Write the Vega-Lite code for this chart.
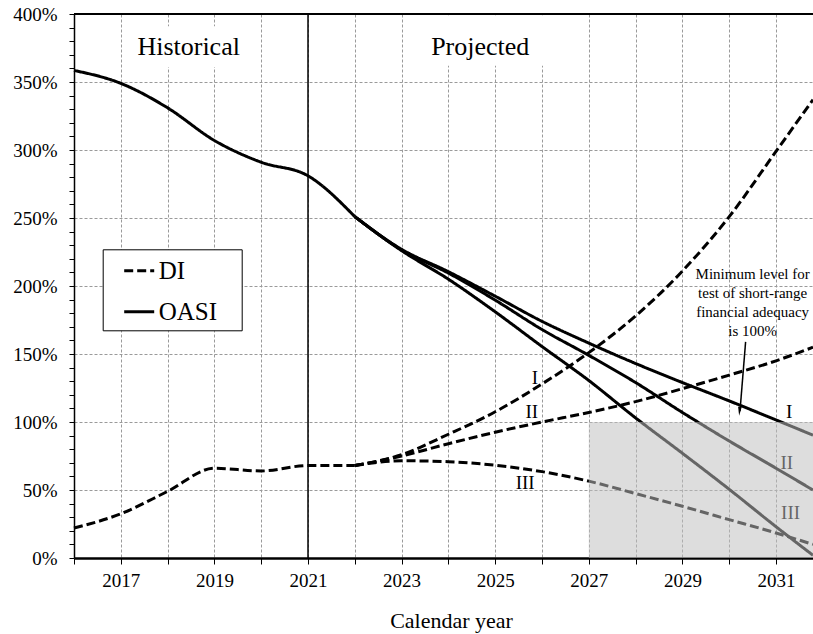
{
  "$schema": "https://vega.github.io/schema/vega-lite/v6.json",
  "width": 739,
  "height": 544,
  "autosize": {"type": "none"},
  "padding": {"left": 74, "top": 14, "right": 0, "bottom": 76},
  "background": "white",
  "config": {
    "font": "Liberation Serif, Times New Roman, serif",
    "view": {"stroke": null},
    "text": {"font": "Liberation Serif, Times New Roman, serif"},
    "axis": {"labelColor": "black", "titleColor": "black", "labelFont": "Liberation Serif, Times New Roman, serif", "titleFont": "Liberation Serif, Times New Roman, serif", "labelFontWeight": "normal"},
    "legend": {"labelFont": "Liberation Serif, Times New Roman, serif"}
  },
  "datasets": {
    "series": [
      {"year": 2016, "value": 22, "fund": "DI", "series": "DI-hist"},
      {"year": 2017, "value": 32.5, "fund": "DI", "series": "DI-hist"},
      {"year": 2018, "value": 49, "fund": "DI", "series": "DI-hist"},
      {"year": 2019, "value": 66, "fund": "DI", "series": "DI-hist"},
      {"year": 2020, "value": 64, "fund": "DI", "series": "DI-hist"},
      {"year": 2021, "value": 68, "fund": "DI", "series": "DI-hist"},
      {"year": 2022, "value": 68, "fund": "DI", "series": "DI-hist"},
      {"year": 2022, "value": 68, "fund": "DI", "series": "DI-I"},
      {"year": 2023, "value": 76, "fund": "DI", "series": "DI-I"},
      {"year": 2024, "value": 91, "fund": "DI", "series": "DI-I"},
      {"year": 2025, "value": 107.5, "fund": "DI", "series": "DI-I"},
      {"year": 2026, "value": 128, "fund": "DI", "series": "DI-I"},
      {"year": 2027, "value": 151, "fund": "DI", "series": "DI-I"},
      {"year": 2028, "value": 178, "fund": "DI", "series": "DI-I"},
      {"year": 2029, "value": 211, "fund": "DI", "series": "DI-I"},
      {"year": 2030, "value": 251, "fund": "DI", "series": "DI-I"},
      {"year": 2031, "value": 299, "fund": "DI", "series": "DI-I"},
      {"year": 2031.79, "value": 337, "fund": "DI", "series": "DI-I"},
      {"year": 2022, "value": 68, "fund": "DI", "series": "DI-II"},
      {"year": 2023, "value": 75, "fund": "DI", "series": "DI-II"},
      {"year": 2024, "value": 84, "fund": "DI", "series": "DI-II"},
      {"year": 2025, "value": 92.5, "fund": "DI", "series": "DI-II"},
      {"year": 2026, "value": 100, "fund": "DI", "series": "DI-II"},
      {"year": 2027, "value": 107, "fund": "DI", "series": "DI-II"},
      {"year": 2028, "value": 115, "fund": "DI", "series": "DI-II"},
      {"year": 2029, "value": 124.5, "fund": "DI", "series": "DI-II"},
      {"year": 2030, "value": 134.5, "fund": "DI", "series": "DI-II"},
      {"year": 2031, "value": 145, "fund": "DI", "series": "DI-II"},
      {"year": 2031.79, "value": 155, "fund": "DI", "series": "DI-II"},
      {"year": 2022, "value": 68, "fund": "DI", "series": "DI-III"},
      {"year": 2023, "value": 71.5, "fund": "DI", "series": "DI-III"},
      {"year": 2024, "value": 70.8, "fund": "DI", "series": "DI-III"},
      {"year": 2025, "value": 68.2, "fund": "DI", "series": "DI-III"},
      {"year": 2026, "value": 63.5, "fund": "DI", "series": "DI-III"},
      {"year": 2027, "value": 56.5, "fund": "DI", "series": "DI-III"},
      {"year": 2028, "value": 47.4, "fund": "DI", "series": "DI-III"},
      {"year": 2029, "value": 38, "fund": "DI", "series": "DI-III"},
      {"year": 2030, "value": 28.2, "fund": "DI", "series": "DI-III"},
      {"year": 2031, "value": 18.4, "fund": "DI", "series": "DI-III"},
      {"year": 2031.79, "value": 10, "fund": "DI", "series": "DI-III"},
      {"year": 2016, "value": 358.5, "fund": "OASI", "series": "OASI-hist"},
      {"year": 2017, "value": 349, "fund": "OASI", "series": "OASI-hist"},
      {"year": 2018, "value": 331, "fund": "OASI", "series": "OASI-hist"},
      {"year": 2019, "value": 307, "fund": "OASI", "series": "OASI-hist"},
      {"year": 2020, "value": 291, "fund": "OASI", "series": "OASI-hist"},
      {"year": 2021, "value": 281, "fund": "OASI", "series": "OASI-hist"},
      {"year": 2022, "value": 251, "fund": "OASI", "series": "OASI-hist"},
      {"year": 2022, "value": 251, "fund": "OASI", "series": "OASI-I"},
      {"year": 2023, "value": 227, "fund": "OASI", "series": "OASI-I"},
      {"year": 2024, "value": 210.5, "fund": "OASI", "series": "OASI-I"},
      {"year": 2025, "value": 192.5, "fund": "OASI", "series": "OASI-I"},
      {"year": 2026, "value": 174, "fund": "OASI", "series": "OASI-I"},
      {"year": 2027, "value": 158, "fund": "OASI", "series": "OASI-I"},
      {"year": 2028, "value": 143, "fund": "OASI", "series": "OASI-I"},
      {"year": 2029, "value": 129, "fund": "OASI", "series": "OASI-I"},
      {"year": 2030, "value": 115.5, "fund": "OASI", "series": "OASI-I"},
      {"year": 2031, "value": 101.5, "fund": "OASI", "series": "OASI-I"},
      {"year": 2031.79, "value": 90.3, "fund": "OASI", "series": "OASI-I"},
      {"year": 2022, "value": 251, "fund": "OASI", "series": "OASI-II"},
      {"year": 2023, "value": 226.5, "fund": "OASI", "series": "OASI-II"},
      {"year": 2024, "value": 209.5, "fund": "OASI", "series": "OASI-II"},
      {"year": 2025, "value": 189.6, "fund": "OASI", "series": "OASI-II"},
      {"year": 2026, "value": 168, "fund": "OASI", "series": "OASI-II"},
      {"year": 2027, "value": 149, "fund": "OASI", "series": "OASI-II"},
      {"year": 2028, "value": 129, "fund": "OASI", "series": "OASI-II"},
      {"year": 2029, "value": 107, "fund": "OASI", "series": "OASI-II"},
      {"year": 2030, "value": 86, "fund": "OASI", "series": "OASI-II"},
      {"year": 2031, "value": 66, "fund": "OASI", "series": "OASI-II"},
      {"year": 2031.79, "value": 50, "fund": "OASI", "series": "OASI-II"},
      {"year": 2022, "value": 251, "fund": "OASI", "series": "OASI-III"},
      {"year": 2023, "value": 226, "fund": "OASI", "series": "OASI-III"},
      {"year": 2024, "value": 205, "fund": "OASI", "series": "OASI-III"},
      {"year": 2025, "value": 181, "fund": "OASI", "series": "OASI-III"},
      {"year": 2026, "value": 155.5, "fund": "OASI", "series": "OASI-III"},
      {"year": 2027, "value": 130.5, "fund": "OASI", "series": "OASI-III"},
      {"year": 2028, "value": 103, "fund": "OASI", "series": "OASI-III"},
      {"year": 2029, "value": 77, "fund": "OASI", "series": "OASI-III"},
      {"year": 2030, "value": 50.5, "fund": "OASI", "series": "OASI-III"},
      {"year": 2031, "value": 23, "fund": "OASI", "series": "OASI-III"},
      {"year": 2031.79, "value": 2, "fund": "OASI", "series": "OASI-III"}
    ],
    "labels": [
      {"year": 2025.85, "value": 128.3, "label": "I"},
      {"year": 2025.78, "value": 102.6, "label": "II"},
      {"year": 2025.64, "value": 51.1, "label": "III"},
      {"year": 2031.28, "value": 102.6, "label": "I"},
      {"year": 2031.23, "value": 65.8, "label": "II"},
      {"year": 2031.31, "value": 29, "label": "III"}
    ]
  },
  "layer": [
    {
      "data": {"name": "series"},
      "mark": {"type": "line", "interpolate": "monotone", "strokeWidth": 3, "color": "black"},
      "encoding": {
        "x": {
          "field": "year", "type": "quantitative",
          "scale": {"domain": [2016, 2031.79], "nice": false, "zero": false},
          "axis": {
            "values": [2016, 2017, 2018, 2019, 2020, 2021, 2022, 2023, 2024, 2025, 2026, 2027, 2028, 2029, 2030, 2031],
            "tickCount": 100,
            "format": "d",
            "labelExpr": "datum.value % 2 === 1 ? datum.label : ''",
            "labelOverlap": false,
            "labelFontSize": 19,
            "labelFontWeight": "normal",
            "labelPadding": 7,
            "tickSize": 6,
            "tickColor": "black",
            "tickWidth": 1,
            "domainColor": "black",
            "domainWidth": 2.5,
            "grid": true,
            "gridColor": "#9a9a9a",
            "gridDash": [3, 2],
            "gridWidth": 1,
            "title": "Calendar year",
            "titleFontSize": 22,
            "titleFontWeight": "normal",
            "titlePadding": 20,
            "titleX": 377
          }
        },
        "y": {
          "field": "value", "type": "quantitative",
          "scale": {"domain": [0, 400], "nice": false},
          "axis": {
            "values": [0, 10, 20, 30, 40, 50, 60, 70, 80, 90, 100, 110, 120, 130, 140, 150, 160, 170, 180, 190, 200, 210, 220, 230, 240, 250, 260, 270, 280, 290, 300, 310, 320, 330, 340, 350, 360, 370, 380, 390, 400],
            "tickCount": 100,
            "labelExpr": "datum.value % 50 === 0 ? datum.value + '%' : ''",
            "labelOverlap": false,
            "labelFontSize": 19,
            "labelFontWeight": "normal",
            "labelPadding": 12,
            "tickSize": 5,
            "tickColor": "black",
            "tickWidth": 1,
            "domainColor": "black",
            "domainWidth": 1.5,
            "grid": true,
            "gridColor": "#9a9a9a",
            "gridDash": [3, 2],
            "gridWidth": 1,
            "gridOpacity": {"condition": {"test": "datum.value % 50 === 0 && datum.value > 0 && datum.value < 400", "value": 1}, "value": 0},
            "title": null
          }
        },
        "detail": {"field": "series"},
        "order": {"field": "year", "type": "quantitative"},
        "strokeDash": {
          "field": "fund", "type": "nominal",
          "scale": {"domain": ["DI", "OASI"], "range": [[9, 4], [1, 0]]},
          "legend": {
            "orient": "none",
            "legendX": 28.7,
            "legendY": 235.3,
            "title": null,
            "strokeColor": "black",
            "fillColor": "white",
            "padding": 5,
            "rowPadding": 11,
            "symbolType": "stroke",
            "symbolSize": 900,
            "symbolStrokeWidth": 3,
            "symbolStrokeColor": "black",
            "symbolOffset": 15,
            "labelOffset": 3,
            "labelFont": "Liberation Serif, Times New Roman, serif",
            "labelFontSize": 25,
            "labelColor": "black",
            "labelExpr": "datum.label + '\u00a0\u00a0\u00a0\u200b'"
          }
        }
      }
    },
    {
      "data": {"values": [{}]},
      "mark": {"type": "rect", "fill": "white"},
      "encoding": {"x": {"datum": 2017.35}, "x2": {"datum": 2019.6}, "y": {"datum": 361}, "y2": {"datum": 391}}
    },
    {
      "data": {"values": [{}]},
      "mark": {"type": "rect", "fill": "white"},
      "encoding": {"x": {"datum": 2023.75}, "x2": {"datum": 2026.1}, "y": {"datum": 362}, "y2": {"datum": 399}}
    },
    {
      "data": {"values": [{}]},
      "mark": {"type": "text", "fontSize": 26, "align": "center", "baseline": "alphabetic", "color": "black"},
      "encoding": {"x": {"datum": 2018.45}, "y": {"datum": 369.9}, "text": {"value": "Historical"}}
    },
    {
      "data": {"values": [{}]},
      "mark": {"type": "text", "fontSize": 26, "align": "center", "baseline": "alphabetic", "color": "black"},
      "encoding": {"x": {"datum": 2024.68}, "y": {"datum": 369.9}, "text": {"value": "Projected"}}
    },
    {
      "data": {"name": "labels"},
      "mark": {"type": "text", "fontSize": 19, "align": "center", "baseline": "alphabetic", "color": "black"},
      "encoding": {"x": {"field": "year", "type": "quantitative"}, "y": {"field": "value", "type": "quantitative"}, "text": {"field": "label"}}
    },
    {
      "data": {"values": [{}]},
      "mark": {"type": "rect", "fill": "#bfbfbf", "opacity": 0.53},
      "encoding": {"x": {"datum": 2027}, "x2": {"datum": 2031.79}, "y": {"datum": 0}, "y2": {"datum": 100}}
    },
    {
      "data": {"values": [{}]},
      "mark": {"type": "rule", "color": "black", "strokeWidth": 1.5},
      "encoding": {"x": {"datum": 2021}}
    },
    {
      "data": {"values": [{}]},
      "mark": {"type": "rule", "color": "black", "strokeWidth": 2},
      "encoding": {"y": {"datum": 400}}
    },
    {
      "data": {"values": [{}]},
      "mark": {"type": "text", "fontSize": 15, "align": "center", "baseline": "middle", "lineBreak": "\n", "lineHeight": 19, "color": "black"},
      "encoding": {"x": {"datum": 2030.5}, "y": {"datum": 208.7}, "text": {"value": "Minimum level for\ntest of short-range\nfinancial adequacy\nis 100%"}}
    },
    {
      "data": {"values": [{}]},
      "mark": {"type": "rule", "color": "black", "strokeWidth": 1.5},
      "encoding": {"x": {"datum": 2030.35}, "y": {"datum": 158.9}, "x2": {"datum": 2030.23}, "y2": {"datum": 108}}
    },
    {
      "data": {"values": [{}]},
      "mark": {"type": "point", "shape": "M-0.4,-1L0.4,-1L0,1Z", "size": 81, "filled": true, "color": "black", "opacity": 1, "angle": 5},
      "encoding": {"x": {"datum": 2030.22}, "y": {"datum": 107.8}}
    }
  ]
}
